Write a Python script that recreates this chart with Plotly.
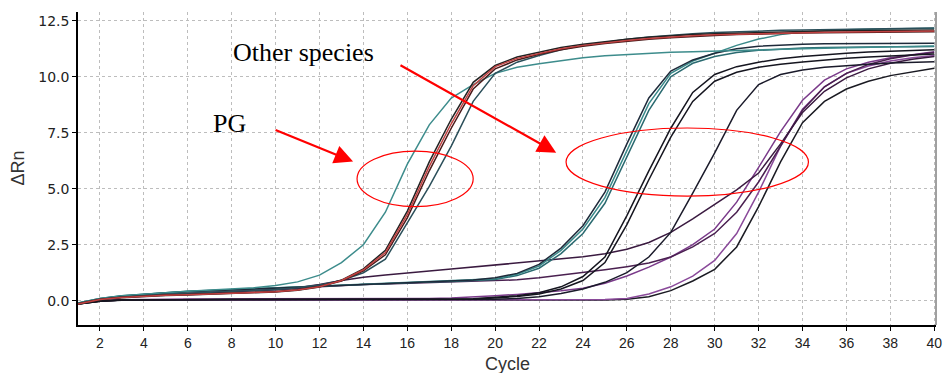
import plotly.graph_objects as go

cycles = list(range(1, 41))

# PG group
pg_teal = [-0.10, 0.10, 0.22, 0.30, 0.36, 0.42, 0.47, 0.52, 0.58, 0.68, 0.84, 1.14, 1.70, 2.50, 3.95, 6.10, 7.85, 9.05, 9.65, 10.15,
           10.42, 10.58, 10.72, 10.85, 10.94, 11.00, 11.05, 11.09, 11.12, 11.15, 11.18, 11.21, 11.23, 11.25, 11.27, 11.29, 11.31, 11.33, 11.35, 11.37]
pg_red = [-0.15, 0.05, 0.14, 0.20, 0.24, 0.27, 0.30, 0.33, 0.36, 0.40, 0.48, 0.62, 0.90, 1.38, 2.15, 3.85, 6.00, 7.90, 9.60, 10.45,
          10.82, 11.05, 11.25, 11.40, 11.52, 11.62, 11.71, 11.78, 11.83, 11.87, 11.90, 11.93, 11.95, 11.97, 11.99, 12.00, 12.01, 12.02, 12.03, 12.04]
pg_brown = [-0.14, 0.06, 0.15, 0.21, 0.25, 0.28, 0.31, 0.34, 0.37, 0.41, 0.49, 0.63, 0.88, 1.33, 2.05, 3.70, 5.80, 7.70, 9.45, 10.35,
            10.75, 11.00, 11.20, 11.36, 11.48, 11.58, 11.67, 11.74, 11.80, 11.84, 11.88, 11.91, 11.93, 11.95, 11.96, 11.97, 11.98, 11.99, 12.00, 12.01]
pg_black = [-0.16, 0.04, 0.13, 0.19, 0.23, 0.26, 0.29, 0.32, 0.35, 0.39, 0.47, 0.61, 0.92, 1.42, 2.25, 4.00, 6.20, 8.10, 9.75, 10.50,
            10.88, 11.10, 11.30, 11.45, 11.57, 11.67, 11.76, 11.83, 11.88, 11.92, 11.95, 11.98, 12.00, 12.02, 12.04, 12.05, 12.06, 12.07, 12.08, 12.09]
pg_slate = [-0.13, 0.07, 0.17, 0.24, 0.29, 0.33, 0.37, 0.41, 0.45, 0.50, 0.58, 0.70, 0.90, 1.25, 1.85, 3.45, 5.10, 6.90, 8.90, 10.15,
            10.65, 10.95, 11.20, 11.40, 11.55, 11.67, 11.77, 11.85, 11.92, 11.97, 12.01, 12.04, 12.07, 12.09, 12.11, 12.13, 12.14, 12.16, 12.17, 12.18]

# Other species group
o_dark = [-0.12, 0.08, 0.20, 0.28, 0.34, 0.40, 0.44, 0.48, 0.52, 0.56, 0.60, 0.64, 0.68, 0.72, 0.75, 0.78, 0.82, 0.86, 0.92, 1.02,
          1.22, 1.62, 2.35, 3.35, 4.85, 7.00, 9.05, 10.25, 10.75, 11.05, 11.25, 11.36, 11.42, 11.45, 11.47, 11.48, 11.49, 11.49, 11.50, 11.50]
o_teal1 = [-0.11, 0.09, 0.21, 0.29, 0.35, 0.41, 0.45, 0.49, 0.53, 0.57, 0.61, 0.65, 0.69, 0.73, 0.76, 0.79, 0.83, 0.87, 0.91, 0.98,
           1.18, 1.55, 2.25, 3.20, 4.60, 6.70, 8.80, 10.15, 10.70, 11.05, 11.40, 11.68, 11.88, 12.00, 12.06, 12.10, 12.12, 12.14, 12.15, 12.16]
o_teal2 = [-0.10, 0.10, 0.22, 0.30, 0.36, 0.42, 0.46, 0.50, 0.54, 0.58, 0.62, 0.66, 0.70, 0.74, 0.77, 0.80, 0.83, 0.86, 0.90, 0.95,
           1.12, 1.45, 2.10, 3.00, 4.35, 6.40, 8.50, 10.00, 10.60, 10.90, 11.08, 11.18, 11.24, 11.28, 11.30, 11.32, 11.33, 11.34, 11.34, 11.35]
b1 = [-0.15, -0.02, 0.03, 0.04, 0.04, 0.05, 0.05, 0.05, 0.05, 0.05, 0.05, 0.05, 0.05, 0.05, 0.05, 0.05, 0.06, 0.07, 0.09, 0.14,
      0.22, 0.36, 0.62, 1.08, 1.95, 3.80, 5.80, 7.70, 9.30, 10.10, 10.45, 10.65, 10.80, 10.90, 10.98, 11.05, 11.10, 11.14, 11.17, 11.20]
b2 = [-0.15, -0.02, 0.03, 0.04, 0.04, 0.05, 0.05, 0.05, 0.05, 0.05, 0.05, 0.05, 0.05, 0.05, 0.05, 0.05, 0.06, 0.07, 0.08, 0.12,
      0.19, 0.30, 0.52, 0.90, 1.70, 3.40, 5.40, 7.30, 8.90, 9.80, 10.20, 10.42, 10.56, 10.66, 10.75, 10.82, 10.88, 10.93, 10.98, 11.02]
l29 = [-0.14, -0.01, 0.03, 0.04, 0.04, 0.05, 0.05, 0.05, 0.05, 0.05, 0.05, 0.05, 0.05, 0.05, 0.05, 0.05, 0.05, 0.05, 0.06, 0.07,
       0.10, 0.18, 0.32, 0.52, 0.82, 1.25, 1.95, 3.05, 4.80, 6.60, 8.50, 9.65, 10.10, 10.30, 10.42, 10.50, 10.56, 10.61, 10.64, 10.67]
d1 = [-0.14, 0.06, 0.15, 0.22, 0.27, 0.31, 0.35, 0.39, 0.43, 0.49, 0.58, 0.72, 0.90, 1.05, 1.15, 1.25, 1.33, 1.41, 1.50, 1.58,
      1.66, 1.75, 1.85, 1.96, 2.10, 2.30, 2.60, 3.05, 3.65, 4.30, 4.95, 5.70, 7.00, 8.40, 9.35, 9.95, 10.35, 10.60, 10.78, 10.90]
d2 = [-0.12, 0.07, 0.16, 0.23, 0.28, 0.32, 0.36, 0.40, 0.44, 0.49, 0.55, 0.62, 0.68, 0.72, 0.75, 0.78, 0.80, 0.82, 0.84, 0.87,
      0.93, 1.02, 1.13, 1.25, 1.38, 1.52, 1.68, 1.95, 2.40, 3.00, 3.95, 5.30, 6.90, 8.50, 9.55, 10.15, 10.55, 10.80, 10.97, 11.08]
p1 = [-0.12, 0.00, 0.04, 0.06, 0.07, 0.08, 0.08, 0.08, 0.08, 0.08, 0.08, 0.08, 0.08, 0.08, 0.08, 0.09, 0.10, 0.12, 0.16, 0.22,
      0.28, 0.35, 0.44, 0.56, 0.78, 1.10, 1.50, 1.95, 2.50, 3.20, 4.40, 5.95, 7.55, 8.95, 9.85, 10.35, 10.65, 10.85, 11.00, 11.12]
p2 = [-0.13, -0.01, 0.03, 0.03, 0.03, 0.03, 0.03, 0.03, 0.03, 0.03, 0.03, 0.03, 0.03, 0.03, 0.03, 0.03, 0.03, 0.03, 0.03, 0.03,
      0.03, 0.03, 0.03, 0.04, 0.05, 0.10, 0.30, 0.62, 1.10, 1.80, 3.00, 4.85, 6.90, 8.55, 9.55, 10.15, 10.48, 10.70, 10.85, 10.95]
lb = [-0.15, -0.02, 0.02, 0.03, 0.03, 0.03, 0.03, 0.03, 0.03, 0.03, 0.03, 0.03, 0.03, 0.03, 0.03, 0.03, 0.03, 0.03, 0.03, 0.03,
      0.03, 0.03, 0.03, 0.03, 0.03, 0.07, 0.18, 0.45, 0.88, 1.40, 2.40, 4.20, 6.20, 7.95, 8.90, 9.45, 9.80, 10.05, 10.22, 10.38]

series = [
    ("flat", lb, "#1a1a22"),
    ("p2", p2, "#8a4a9a"),
    ("p1", p1, "#7a3a8a"),
    ("d2", d2, "#4a2050"),
    ("d1", d1, "#3a1a40"),
    ("l29", l29, "#1a1a2a"),
    ("b2", b2, "#15151f"),
    ("b1", b1, "#15151f"),
    ("o_teal2", o_teal2, "#2a6a70"),
    ("o_teal1", o_teal1, "#3a8a8a"),
    ("o_dark", o_dark, "#1e2a3a"),
    ("pg_teal", pg_teal, "#3d8c8c"),
    ("pg_slate", pg_slate, "#2b4f5a"),
    ("pg_black", pg_black, "#222222"),
    ("pg_brown", pg_brown, "#4a1a1a"),
    ("pg_red", pg_red, "#c04040"),
]

x_ticks = list(range(2, 41, 2))
y_ticks = [0.0, 2.5, 5.0, 7.5, 10.0, 12.5]

fig = go.Figure()
for name, vals, col in series:
    fig.add_trace(go.Scatter(x=cycles, y=vals, mode="lines", name=name,
                             line=dict(color=col, width=1.5), showlegend=False, hoverinfo="skip"))

x_tick_font = dict(family="Liberation Sans Narrow, Liberation Sans, Arial, sans-serif", size=14, color="#222222")
y_tick_font = dict(family="DejaVu Sans, Verdana, sans-serif", size=14, color="#222222")
title_font = dict(family="Liberation Sans, Arial, sans-serif", size=18, color="#333333")

fig.update_layout(
    width=947, height=373,
    margin=dict(l=78, r=5, t=12, b=48),
    paper_bgcolor="white", plot_bgcolor="white",
    xaxis=dict(range=[1, 40.08], tickvals=x_ticks, ticktext=[str(v) for v in x_ticks],
               showgrid=True, gridcolor="#bdbdbd", gridwidth=1, griddash="3px,3px",
               showline=True, linecolor="black", linewidth=1.5, ticks="outside", ticklen=4,
               tickcolor="black", tickfont=x_tick_font, zeroline=False, ticklabeloverflow="allow"),
    yaxis=dict(range=[-1.085, 12.89], tickvals=y_ticks, ticktext=[f"{v:.1f}" for v in y_ticks],
               showgrid=True, gridcolor="#bdbdbd", gridwidth=1, griddash="3px,3px",
               showline=True, linecolor="black", linewidth=1.5, ticks="outside", ticklen=4,
               tickcolor="black", tickfont=y_tick_font, zeroline=False),
)

# axis titles
fig.add_annotation(x=0, y=0.5, xref="paper", yref="paper", xshift=-61, text="ΔRn", textangle=-90,
                   showarrow=False, font=title_font, xanchor="center", yanchor="middle")
fig.add_annotation(x=0.5, y=0, xref="paper", yref="paper", yshift=-39, text="Cycle",
                   showarrow=False, font=title_font, xanchor="center", yanchor="middle")

# right border
fig.add_shape(type="line", xref="paper", yref="paper", x0=1, x1=1, y0=0, y1=1,
              line=dict(color="#808080", width=1.5))

# ellipses
fig.add_shape(type="circle", xref="x", yref="y", x0=13.71, x1=19.0, y0=4.20, y1=6.68,
              line=dict(color="red", width=1.2))
fig.add_shape(type="circle", xref="x", yref="y", x0=23.23, x1=34.27, y0=4.67, y1=7.71,
              line=dict(color="red", width=1.2))

serif = dict(family="Liberation Serif, Times New Roman, serif", size=26, color="black")
fig.add_annotation(x=11.27, y=11.06, xref="x", yref="y", text="Other species", showarrow=False, font=serif)
fig.add_annotation(x=7.88, y=7.93, xref="x", yref="y", text="PG", showarrow=False, font=serif)

fig.add_annotation(x=13.53, y=6.21, ax=9.93, ay=7.65, xref="x", yref="y", axref="x", ayref="y",
                   text="", showarrow=True, arrowhead=2, arrowsize=1.7, arrowwidth=2.2, arrowcolor="red")
fig.add_annotation(x=22.78, y=6.61, ax=15.62, ay=10.55, xref="x", yref="y", axref="x", ayref="y",
                   text="", showarrow=True, arrowhead=2, arrowsize=1.7, arrowwidth=2.2, arrowcolor="red")

fig.write_html("out.html", config={"displayModeBar": False},
               post_script="document.body.style.margin='0px';document.body.style.overflow='hidden';")
